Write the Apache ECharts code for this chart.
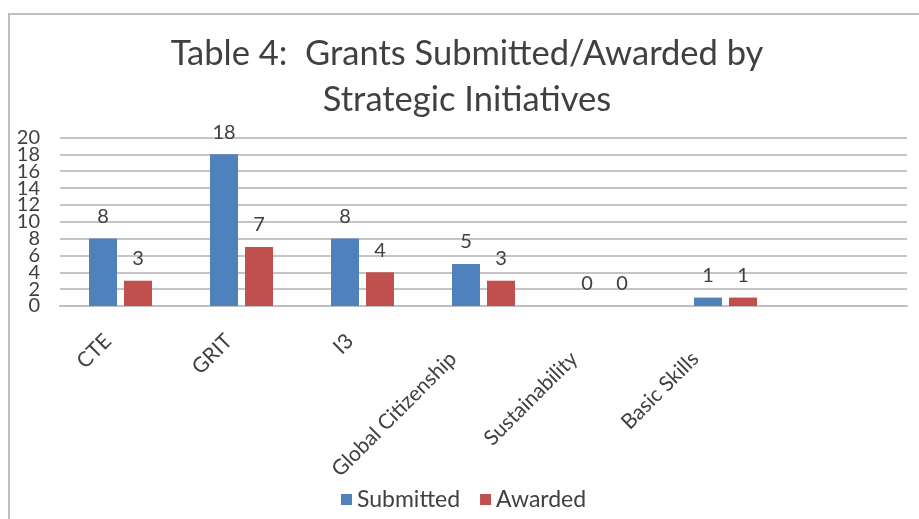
<!DOCTYPE html>
<html><head><meta charset="utf-8">
<script src="https://cdn.jsdelivr.net/npm/echarts@6/dist/echarts.min.js"></script>
<style>html,body{margin:0;padding:0;background:#fff}#c{width:919px;height:519px}</style>
</head><body><div id="c"></div>
<script>
const categories = ['CTE', 'GRIT', 'I3', 'Global Citizenship', 'Sustainability', 'Basic Skills', ''];
const submitted = [8, 18, 8, 5, 0, 1, null];
const awarded = [3, 7, 4, 3, 0, 1, null];
const yTicks = { min: 0, max: 20, interval: 2 };
const titleText = 'Table 4:  Grants Submitted/Awarded by\nStrategic Initiatives';

const FONT = 'Lato';
const TXT = '#404040';
const XFS = 21;
const yLabel = { fontSize: 20, color: TXT, fontFamily: FONT, margin: 20 };
const chart = echarts.init(document.getElementById('c'), null, { renderer: 'canvas' });
chart.setOption({
  animation: false,
  backgroundColor: '#fff',
  textStyle: { fontFamily: FONT },
  graphic: [{
    type: 'rect', shape: { x: 9, y: 14, width: 940, height: 540 },
    style: { fill: 'none', stroke: '#c0c0c0', lineWidth: 2 }, silent: true, z: -1
  }],
  title: {
    text: titleText, left: 462, textAlign: 'center', top: 26,
    textStyle: { fontFamily: FONT, fontSize: 34.5, fontWeight: 'normal', color: TXT, lineHeight: 46 }
  },
  legend: {
    data: ['Submitted', 'Awarded'], left: 336, top: 483,
    itemWidth: 11, itemHeight: 11, itemGap: 20, icon: 'rect',
    textStyle: { fontFamily: FONT, fontSize: 23, color: TXT }
  },
  grid: { left: 60, right: 12, top: 137.5, bottom: 213 },
  xAxis: {
    type: 'category', data: categories,
    axisLine: { lineStyle: { color: '#bfbfbf', width: 2 } },
    axisTick: { show: false },
    axisLabel: {
      interval: 0, rotate: 45, color: TXT, fontFamily: FONT, fontSize: XFS, margin: 19,
      formatter: v => v ? `{${v.length <= 4 ? 's' : 'l'}|${v}}` : '',
      rich: {
        s: { fontSize: XFS, fontFamily: FONT, color: TXT, padding: [0, 18, 0, 0] },
        l: { fontSize: XFS, fontFamily: FONT, color: TXT, padding: [0, 43, 0, 0] }
      }
    }
  },
  yAxis: [{
    type: 'value', min: yTicks.min, max: yTicks.max, interval: yTicks.interval,
    axisLine: { show: false }, axisTick: { show: false },
    splitLine: { lineStyle: { color: '#c4c4c4', width: 2 } },
    axisLabel: Object.assign({ showMinLabel: false, showMaxLabel: false }, yLabel)
  }, {
    type: 'value', position: 'left', min: yTicks.min, max: yTicks.max, interval: yTicks.max - yTicks.min,
    axisLine: { show: false }, axisTick: { show: false }, splitLine: { show: false },
    axisLabel: Object.assign({ showMinLabel: true, showMaxLabel: true }, yLabel)
  }],
  series: [
    { name: 'Submitted', type: 'bar', data: submitted, barWidth: 28, barGap: '25%',
      itemStyle: { color: '#4F81BD' },
      label: { show: true, position: 'top', distance: 12, fontSize: 20, color: TXT, fontFamily: FONT } },
    { name: 'Awarded', type: 'bar', data: awarded, barWidth: 28,
      itemStyle: { color: '#C0504D' },
      label: { show: true, position: 'top', distance: 12, fontSize: 20, color: TXT, fontFamily: FONT } }
  ]
});
</script></body></html>
